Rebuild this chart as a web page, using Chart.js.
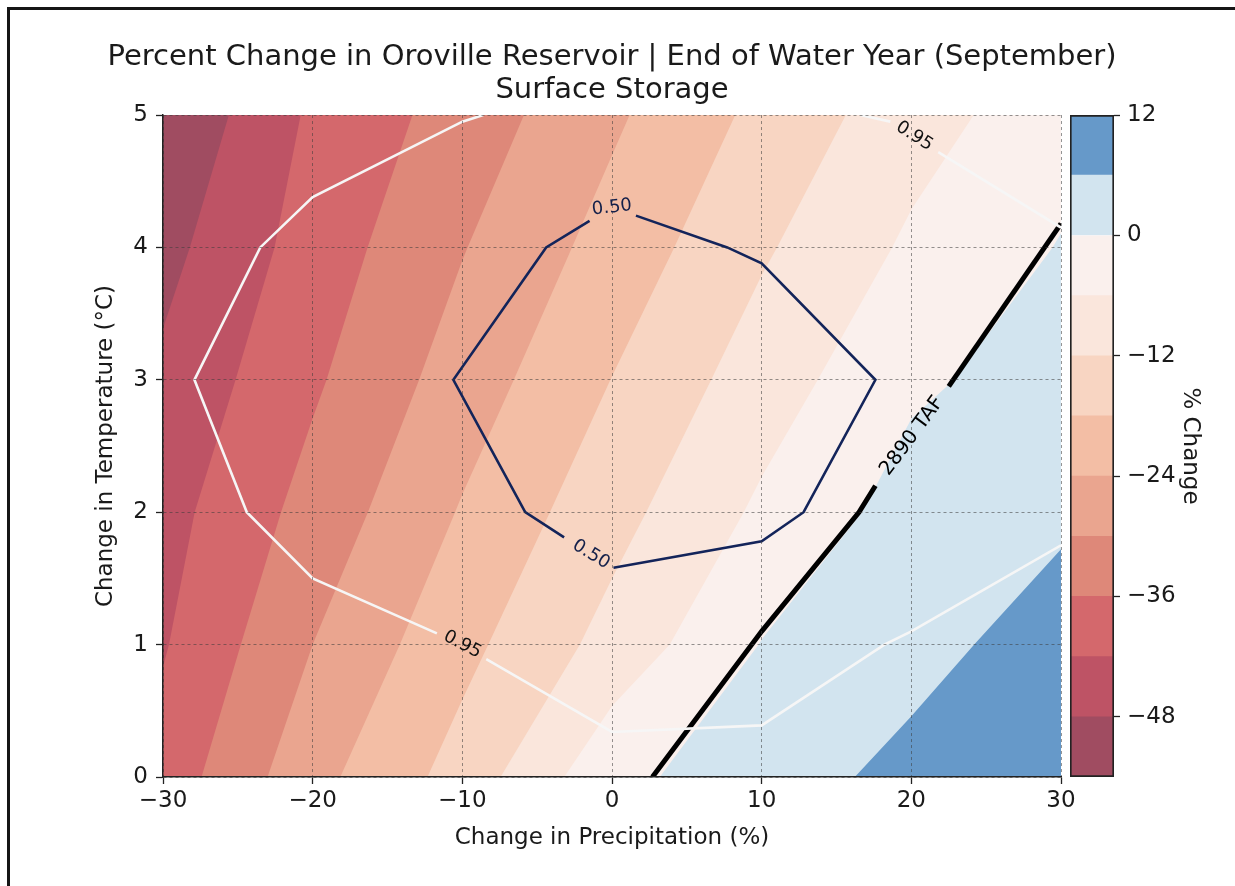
<!DOCTYPE html>
<html>
<head>
<meta charset="utf-8">
<script src="https://cdn.jsdelivr.net/npm/chart.js@4.4.1/dist/chart.umd.min.js"></script>
<style>
  html, body { margin: 0; padding: 0; background: #fff; }
  body { width: 1235px; height: 886px; position: relative; overflow: hidden; }
  #frame { position: absolute; left: 7px; top: 7px; width: 1240px; height: 890px;
           border-top: 3px solid #161616; border-left: 3px solid #161616; }
  #main { position: absolute; left: 0; top: 0; }
  #cbar { position: absolute; left: 1062px; top: 0; }
</style>
</head>
<body>
<div id="frame"></div>
<canvas id="main" width="1235" height="886"></canvas>
<canvas id="cbar" width="173" height="886"></canvas>
<script>
// grid the storage change was computed on
const precip = [-30, -20, -10, 0, 10, 20, 30];
const temps = [0, 1, 2, 3, 4, 5];

// % change in end-of-September storage, one row per temperature step
const pctChange = [
  [-39.5, -25.9, -15.6, -1.5, 3.2, 7.7, 11.5],
  [-42.5, -30.0, -19.7, -9.9, 0.2, 4.0, 8.76],
  [-44.2, -33.8, -23.5, -14.1, -4.9, 2.4, 4.93],
  [-46.8, -36.9, -27.2, -17.9, -9.0, -1.0, 2.5],
  [-49.9, -39.3, -30.3, -21.7, -12.8, -5.0, 0.3],
  [-53.5, -41.0, -33.5, -25.0, -16.5, -8.5, -2.5]
];

const levels = [-54, -48, -42, -36, -30, -24, -18, -12, -6, 0, 6, 12];
const levelColors = ['#a04c61', '#be5365', '#d4686c', '#de8879', '#eaa58f', '#f3bea5',
                     '#f8d5c2', '#fae6dc', '#faf0ed', '#d2e4ef', '#6699c9'];

const xTicks = [-30, -20, -10, 0, 10, 20, 30];
const yTicks = [0, 1, 2, 3, 4, 5];
const cbarTicks = [-48, -36, -24, -12, 0, 12];

// overlay contour lines, split where the inline labels sit
const prob95 = [
  [[-8.6, 5], [-10, 4.95], [-20, 4.38], [-23.5, 4], [-27.9, 3], [-24.4, 2], [-20, 1.5], [-11.7, 1.085]],
  [[-8.4, 0.89], [0, 0.34], [10, 0.39], [18.2, 1], [20, 1.1], [30, 1.75]],
  [[16.6, 5], [18.6, 4.95]],
  [[21.8, 4.72], [30, 4.15]]
];
const prob50 = [
  [[1.6, 4.24], [7.7, 4], [10, 3.88], [17.6, 3], [12.8, 2], [10, 1.78], [0.1, 1.58]],
  [[-3.2, 1.81], [-5.8, 2], [-10.6, 3], [-4.4, 4], [-1.5, 4.2]]
];
const taf2890 = [
  [[2.7, 0], [10, 1.1], [16.5, 2], [17.6, 2.2]],
  [[22.5, 2.95], [30, 4.18]]
];
// text, where it sits, and the two gap ends that set its slope
const lineLabels = [
  ['0.95', [-10, 1.0], [-11.7, 1.085], [-8.4, 0.89]],
  ['0.95', [20.2, 4.84], [18.6, 4.95], [21.8, 4.72]],
  ['0.50', [0, 4.3], [-1.5, 4.2], [1.6, 4.24]],
  ['0.50', [-1.4, 1.68], [-3.2, 1.81], [0.1, 1.58]],
  ['2890 TAF', [20.05, 2.575], [17.6, 2.2], [22.5, 2.95]]
];

const FONT = "'DejaVu Sans', sans-serif";
const INK = '#1a1a1a';

function fmt(v) {
  return v < 0 ? '\u2212' + Math.abs(v) : String(v);
}

// points where the field crosses level L, walking the grid edges
function levelCurve(L) {
  var pts = [];
  for (let j = 0; j < temps.length; j++) {
    for (let i = 0; i < precip.length - 1; i++) {
      var a = pctChange[j][i], b = pctChange[j][i + 1];
      if ((a - L) * (b - L) <= 0 && a != b) {
        var f = (L - a) / (b - a);
        pts.push({x: precip[i] + f * (precip[i + 1] - precip[i]), y: temps[j]});
      }
    }
  }
  for (let i = 0; i < precip.length; i++) {
    for (let j = 0; j < temps.length - 1; j++) {
      var a = pctChange[j][i], b = pctChange[j + 1][i];
      if ((a - L) * (b - L) <= 0 && a != b) {
        var f = (L - a) / (b - a);
        pts.push({x: precip[i], y: temps[j] + f * (temps[j + 1] - temps[j])});
      }
    }
  }
  pts.sort((p, q) => (p.x - q.x) || (p.y - q.y));
  return pts.filter((p, k) => k == 0 || Math.abs(p.x - pts[k - 1].x) > 1e-9 || Math.abs(p.y - pts[k - 1].y) > 1e-9);
}

// polygon of the area where the field is >= L (values grow to the lower right)
function regionAbove(L) {
  var x0 = precip[0], x1 = precip[precip.length - 1];
  var y0 = temps[0], y1 = temps[temps.length - 1];
  var c = levelCurve(L);
  if (c.length < 2) {
    if (L <= pctChange[temps.length - 1][0]) {
      return [{x: x0, y: y0}, {x: x1, y: y0}, {x: x1, y: y1}, {x: x0, y: y1}];
    }
    return [];
  }
  var poly = c.slice();
  var first = c[0], last = c[c.length - 1];
  if (last.y >= y1 - 1e-9 && last.x < x1) poly.push({x: x1, y: y1});
  poly.push({x: x1, y: y0});
  if (first.x <= x0 + 1e-9 && first.y > y0) poly.push({x: x0, y: y0});
  return poly;
}

var bandSets = levelColors.map((color, k) => ({
  data: regionAbove(levels[k]),
  fill: 'shape',
  backgroundColor: color,
  borderColor: 'rgba(0,0,0,0)',
  borderWidth: 0,
  pointRadius: 0,
  order: 100 - k
}));

function lineSets(parts, color, width) {
  return parts.map(p => ({
    data: p.map(([x, y]) => ({x: x, y: y})),
    borderColor: color,
    borderWidth: width,
    pointRadius: 0,
    fill: false,
    order: 0
  }));
}

var labelStyle = {'0.95': ['#111', 18], '0.50': ['#14204a', 18], '2890 TAF': ['#000', 20]};

const lineLabelPlugin = {
  id: 'lineLabels',
  afterDraw(chart) {
    const {ctx, scales} = chart;
    lineLabels.forEach(([text, at, a, b]) => {
      var xa = scales.x.getPixelForValue(a[0]), ya = scales.y.getPixelForValue(a[1]);
      var xb = scales.x.getPixelForValue(b[0]), yb = scales.y.getPixelForValue(b[1]);
      var st = labelStyle[text];
      ctx.save();
      ctx.translate(scales.x.getPixelForValue(at[0]), scales.y.getPixelForValue(at[1]));
      ctx.rotate(Math.atan2(yb - ya, xb - xa));
      ctx.font = st[1] + 'px ' + FONT;
      ctx.fillStyle = st[0];
      ctx.textAlign = 'center';
      ctx.textBaseline = 'middle';
      ctx.fillText(text, 0, 0);
      ctx.restore();
    });
  }
};

// centre the title over the plot without squeezing it into the plot width
const titleSpan = {
  id: 'titleSpan',
  afterLayout(chart) {
    var t = chart.titleBlock;
    var mid = (chart.chartArea.left + chart.chartArea.right) / 2;
    t.left = mid - 610;
    t.right = mid + 610;
    t.width = 1220;
  }
};

var gridOpts = {
  color: 'rgba(60,60,60,0.55)',
  lineWidth: 1,
  z: 1,
  tickColor: '#222',
  tickLength: 7,
  tickWidth: 1.3,
  tickBorderDash: []
};
var borderOpts = {display: true, color: '#222', width: 1.5, dash: [3, 3], z: 1};

new Chart(document.getElementById('main'), {
  type: 'line',
  data: {
    datasets: bandSets
      .concat(lineSets(prob95, '#f6f6f6', 2.6))
      .concat(lineSets(prob50, '#13245a', 2.6))
      .concat(lineSets(taf2890, '#000', 5))
  },
  options: {
    responsive: false,
    animation: false,
    devicePixelRatio: 1,
    events: [],
    layout: {padding: {left: 0, right: 174, top: 0, bottom: 0}},
    plugins: {
      legend: {display: false},
      tooltip: {enabled: false},
      title: {
        display: true,
        fullSize: false,
        text: ['Percent Change in Oroville Reservoir | End of Water Year (September)', 'Surface Storage'],
        color: INK,
        font: {family: FONT, size: 29, weight: 'normal', lineHeight: 1.14},
        padding: {top: 40.5, bottom: 8.4}
      }
    },
    scales: {
      x: {
        type: 'linear',
        min: -30,
        max: 30,
        afterBuildTicks: s => { s.ticks = xTicks.map(v => ({value: v})); },
        afterFit: s => { s.height = 109; },
        ticks: {callback: fmt, color: INK, font: {family: FONT, size: 23}, padding: 3, maxRotation: 0, autoSkip: false},
        grid: gridOpts,
        border: borderOpts,
        title: {display: true, text: 'Change in Precipitation (%)', color: INK,
                font: {family: FONT, size: 23}, padding: {top: 0, bottom: 34}}
      },
      y: {
        type: 'linear',
        min: 0,
        max: 5,
        afterBuildTicks: s => { s.ticks = yTicks.map(v => ({value: v})); },
        afterFit: s => { s.width = 163; },
        ticks: {callback: fmt, color: INK, font: {family: FONT, size: 23}, padding: 8, autoSkip: false},
        grid: gridOpts,
        border: borderOpts,
        title: {display: true, text: 'Change in Temperature (\u00b0C)', color: INK,
                font: {family: FONT, size: 23}, padding: {top: 92, bottom: 0}}
      }
    }
  },
  plugins: [lineLabelPlugin, titleSpan]
});

// colour bar: one floating bar per contour band
var cbarSets = [{
  data: [[levels[0], levels[levels.length - 1]]],
  backgroundColor: 'rgba(0,0,0,0)',
  borderColor: '#222',
  borderWidth: 1.3,
  borderSkipped: false,
  grouped: false,
  barPercentage: 1,
  categoryPercentage: 1,
  order: 0
}];
for (let k = 0; k < levelColors.length; k++) {
  cbarSets.push({
    data: [[levels[k], levels[k + 1]]],
    backgroundColor: levelColors[k],
    borderWidth: 0,
    grouped: false,
    barPercentage: 1,
    categoryPercentage: 1,
    order: 1
  });
}

new Chart(document.getElementById('cbar'), {
  type: 'bar',
  data: {labels: [''], datasets: cbarSets},
  options: {
    responsive: false,
    animation: false,
    devicePixelRatio: 1,
    events: [],
    layout: {padding: {left: 8, right: 0, top: 115, bottom: 109}},
    plugins: {legend: {display: false}, tooltip: {enabled: false}},
    scales: {
      x: {display: false},
      y: {
        position: 'right',
        min: levels[0],
        max: levels[levels.length - 1],
        afterBuildTicks: s => { s.ticks = cbarTicks.map(v => ({value: v})); },
        afterFit: s => { s.width = 121; },
        ticks: {callback: fmt, color: INK, font: {family: FONT, size: 23}, padding: 7, autoSkip: false},
        grid: {drawOnChartArea: false, tickColor: '#222', tickLength: 6, tickWidth: 1.3},
        border: {display: false},
        title: {display: true, text: '% Change', color: INK,
                font: {family: FONT, size: 23}, padding: {top: 31, bottom: 0}}
      }
    }
  }
});
</script>
</body>
</html>
